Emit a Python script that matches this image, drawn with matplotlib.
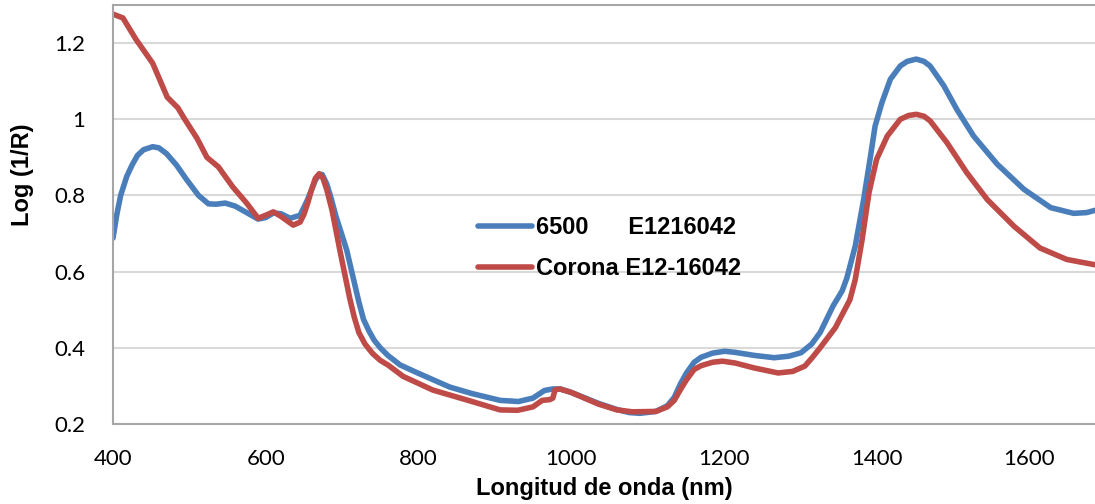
import matplotlib
matplotlib.use('Agg')
import matplotlib.pyplot as plt

# wavelength (nm) and log(1/R)
wl_6500 = [400, 405, 410, 418, 425, 432, 440, 452, 460, 470, 483, 497, 512, 525, 535,
           547, 560, 575, 590, 600, 610, 620, 632, 645, 655, 660, 665, 670, 674, 680,
           686, 692, 700, 706, 715, 722, 728, 735, 742, 750, 760, 776, 800, 841, 870,
           907, 931, 950, 965, 976, 986, 1000, 1036, 1060, 1076, 1090, 1111, 1126, 1135,
           1143, 1151, 1161, 1170, 1185, 1201, 1215, 1240, 1266, 1285, 1301, 1315, 1326,
           1343, 1355, 1361, 1372, 1383, 1392, 1398, 1407, 1418, 1431, 1440, 1452, 1462,
           1470, 1488, 1505, 1527, 1558, 1593, 1628, 1658, 1675, 1686]
val_6500 = [0.688, 0.75, 0.80, 0.85, 0.88, 0.905, 0.92, 0.928, 0.925, 0.91, 0.88, 0.84,
            0.80, 0.778, 0.777, 0.780, 0.772, 0.755, 0.738, 0.742, 0.754, 0.752, 0.740,
            0.748, 0.79, 0.815, 0.84, 0.855, 0.855, 0.83, 0.79, 0.745, 0.695, 0.657, 0.58,
            0.52, 0.475, 0.445, 0.42, 0.40, 0.38, 0.355, 0.333, 0.297, 0.280, 0.262,
            0.259, 0.268, 0.288, 0.292, 0.292, 0.283, 0.254, 0.238, 0.230, 0.228, 0.233,
            0.248, 0.27, 0.305, 0.334, 0.362, 0.375, 0.386, 0.391, 0.388, 0.38, 0.374,
            0.378, 0.387, 0.41, 0.44, 0.51, 0.55, 0.583, 0.667, 0.789, 0.903, 0.982, 1.044,
            1.105, 1.14, 1.152, 1.158, 1.152, 1.14, 1.088, 1.026, 0.956, 0.882, 0.816,
            0.768, 0.753, 0.755, 0.761]

wl_corona = [400, 413, 430, 452, 471, 485, 494, 510, 523, 538, 557, 575, 590, 600, 610,
             620, 636, 645, 650, 655, 660, 665, 670, 675, 680, 687, 697, 710, 716, 722,
             730, 740, 750, 760, 780, 819, 860, 907, 930, 950, 962, 972, 976, 979, 985,
             1000, 1036, 1060, 1080, 1111, 1126, 1135, 1143, 1151, 1161, 1170, 1185, 1198,
             1215, 1240, 1271, 1290, 1306, 1316, 1326, 1346, 1365, 1372, 1381, 1390, 1400,
             1414, 1431, 1442, 1452, 1462, 1470, 1492, 1518, 1545, 1580, 1614, 1649, 1686]
val_corona = [1.276, 1.266, 1.21, 1.147, 1.058, 1.03, 1.0, 0.95, 0.90, 0.875, 0.822, 0.78,
              0.74, 0.748, 0.757, 0.745, 0.722, 0.73, 0.75, 0.78, 0.815, 0.845, 0.857,
              0.845, 0.815, 0.76, 0.657, 0.53, 0.48, 0.44, 0.41, 0.385, 0.367, 0.355,
              0.325, 0.289, 0.265, 0.237, 0.236, 0.245, 0.262, 0.264, 0.268, 0.29, 0.292,
              0.283, 0.252, 0.237, 0.232, 0.233, 0.245, 0.262, 0.29, 0.316, 0.343, 0.353,
              0.362, 0.365, 0.36, 0.347, 0.334, 0.338, 0.352, 0.375, 0.40, 0.453, 0.526,
              0.579, 0.684, 0.807, 0.895, 0.956, 1.0, 1.01, 1.013, 1.008, 0.996, 0.939,
              0.860, 0.789, 0.719, 0.662, 0.632, 0.618]

labels = ['6500      E1216042', 'Corona E12-16042']
x_ticks = [400, 600, 800, 1000, 1200, 1400, 1600]
y_ticks = [0.2, 0.4, 0.6, 0.8, 1.0, 1.2]
y_ticklabels = ['0.2', '0.4', '0.6', '0.8', '1', '1.2']

fig = plt.figure(figsize=(10.95, 5.04), dpi=100)
ax = fig.add_axes([113/1095, 80/504, 982/1095, 419/504])

ax.plot(wl_6500, val_6500, color='#4a7ebb', lw=4, label=labels[0],
        solid_capstyle='round', solid_joinstyle='round')
ax.plot(wl_corona, val_corona, color='#be4b48', lw=4, label=labels[1],
        solid_capstyle='round', solid_joinstyle='round')

ax.set_xlim(400, 1686)
ax.set_ylim(0.2, 1.3)
ax.set_xticks(x_ticks)
ax.set_yticks(y_ticks)
ax.set_yticklabels(y_ticklabels)
ax.tick_params(length=0, labelsize=16)
ax.tick_params(axis='x', pad=18)
ax.tick_params(axis='y', pad=20)
for lab in ax.get_xticklabels() + ax.get_yticklabels():
    lab.set_family('Lato')

ax.grid(axis='y', color='#d9d9d9', lw=1.5)
ax.set_axisbelow(True)
for side in ['left', 'bottom', 'top']:
    ax.spines[side].set_color('#a6a6a6')
    ax.spines[side].set_linewidth(1.5)
ax.spines['right'].set_visible(False)

fig.text(604/1095, 1 - 488/504, 'Longitud de onda (nm)', ha='center', va='center',
         fontsize=17, fontweight='bold', family='Liberation Sans')
fig.text(23/1095, 1 - 175/504, 'Log (1/R)', ha='center', va='center', rotation=90,
         fontsize=17, fontweight='bold', family='Liberation Sans')

leg = ax.legend(loc='center left', bbox_to_anchor=(478/1095, 1 - 248/504),
                bbox_transform=fig.transFigure, frameon=False,
                prop={'family': 'Liberation Sans', 'weight': 'bold', 'size': 17},
                handlelength=2.3, handletextpad=0.15, labelspacing=0.75,
                borderpad=0, borderaxespad=0)

fig.savefig('out.png', dpi=100)
